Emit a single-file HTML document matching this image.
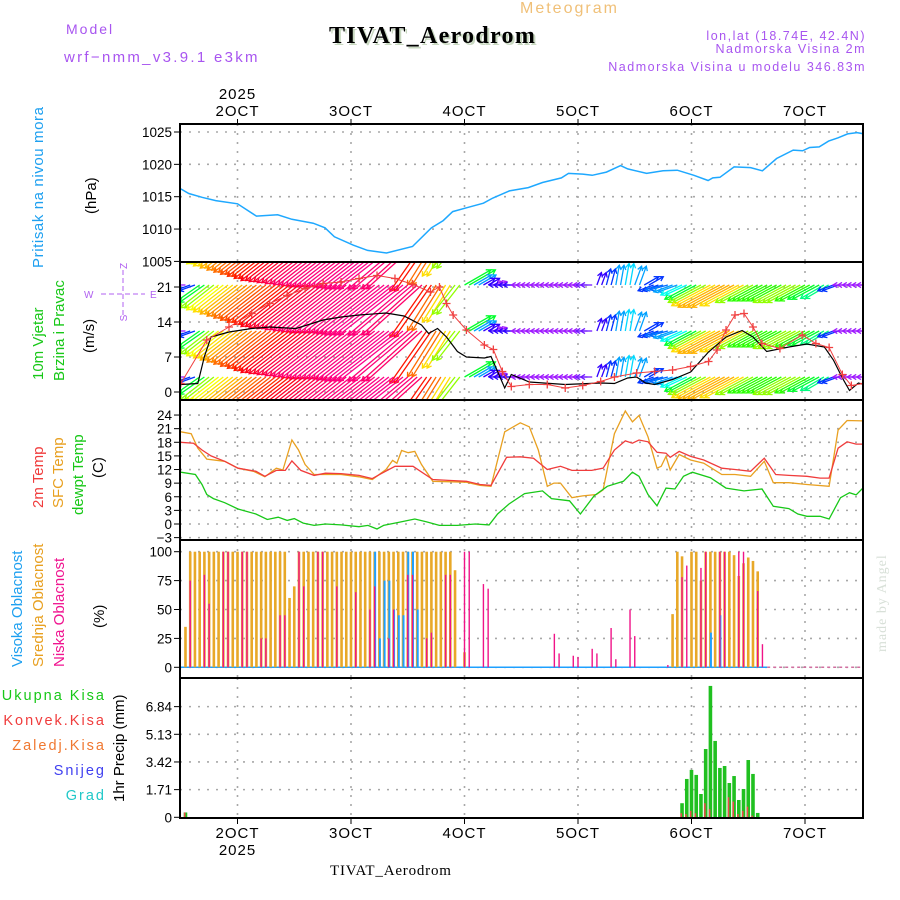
<!DOCTYPE html>
<html><head><meta charset="utf-8"><style>
html,body{margin:0;padding:0;background:#fff;}
svg{display:block;font-family:"Liberation Sans",sans-serif;}
</style></head><body>
<svg id="chart" width="900" height="900" viewBox="0 0 900 900" xmlns="http://www.w3.org/2000/svg">
<rect x="0" y="0" width="900" height="900" fill="#fff"/>
<g id="gridLayer"></g>
<g id="dataLayer"></g>
<g id="frameLayer"></g>
<g id="textLayer">
<text x="66" y="34" font-size="14" fill="#a855f0" letter-spacing="2">Model</text>
<text x="64" y="62" font-size="15" fill="#a855f0" letter-spacing="2.3">wrf−nmm_v3.9.1 e3km</text>
<text x="520" y="13" font-size="16" fill="#f0c078" letter-spacing="2">Meteogram</text>
<text x="331" y="45" font-size="24" font-weight="bold" font-family="Liberation Serif, serif" fill="#c8d8c0" letter-spacing="1.3">TIVAT_Aerodrom</text>
<text x="329" y="43" font-size="24" font-weight="bold" font-family="Liberation Serif, serif" fill="#000" letter-spacing="1.3">TIVAT_Aerodrom</text>
<text x="866" y="40" font-size="12.5" fill="#a855f0" text-anchor="end" letter-spacing="1.5">lon,lat (18.74E, 42.4N)</text>
<text x="866" y="53" font-size="12.5" fill="#a855f0" text-anchor="end" letter-spacing="1.5">Nadmorska Visina 2m</text>
<text x="866" y="71" font-size="12.5" fill="#a855f0" text-anchor="end" letter-spacing="1.5">Nadmorska Visina u modelu 346.83m</text>
<text x="330" y="875" font-size="15" font-family="Liberation Serif, serif" fill="#000" letter-spacing="0.8">TIVAT_Aerodrom</text>
<text transform="translate(886,652) rotate(-90)" font-size="14" font-family="Liberation Serif, serif" fill="#d8e0d8" letter-spacing="1">made by Angel</text>
<text transform="translate(43,268) rotate(-90)" font-size="15" fill="#1ea0f0" letter-spacing="0.6">Pritisak na nivou mora</text>
<text transform="translate(96,214) rotate(-90)" font-size="15" fill="#000">(hPa)</text>
<text transform="translate(43,380) rotate(-90)" font-size="15" fill="#18c818">10m Vjetar</text>
<text transform="translate(64,381) rotate(-90)" font-size="15" fill="#18c818">Brzina i Pravac</text>
<text transform="translate(94,353) rotate(-90)" font-size="15" fill="#000">(m/s)</text>
<g fill="#b060f0" stroke="none" font-size="10">
<text x="84" y="298">W</text><text x="150" y="298">E</text>
<text transform="translate(127,266) rotate(-90)" text-anchor="middle">Z</text>
<text transform="translate(127,318) rotate(-90)" text-anchor="middle">S</text>
<line x1="101" y1="294" x2="145" y2="294" stroke="#b060f0" stroke-dasharray="5 3"/>
<line x1="123" y1="270" x2="123" y2="316" stroke="#b060f0" stroke-dasharray="5 3"/>
</g>
<text transform="translate(43,508) rotate(-90)" font-size="15" fill="#f03c3c">2m Temp</text>
<text transform="translate(63,508) rotate(-90)" font-size="15" fill="#e8a020">SFC Temp</text>
<text transform="translate(83,515) rotate(-90)" font-size="15" fill="#18c818">dewpt Temp</text>
<text transform="translate(103,478) rotate(-90)" font-size="15" fill="#000">(C)</text>
<text transform="translate(22,667) rotate(-90)" font-size="15" fill="#1ea0f0">Visoka Oblacnost</text>
<text transform="translate(43,667) rotate(-90)" font-size="15" fill="#e8a020">Srednja Oblacnost</text>
<text transform="translate(64,667) rotate(-90)" font-size="15" fill="#f01490">Niska Oblacnost</text>
<text transform="translate(104,628) rotate(-90)" font-size="15" fill="#000">(%)</text>
<text x="106" y="700" font-size="14.5" fill="#18c818" text-anchor="end" letter-spacing="2">Ukupna Kisa</text>
<text x="106" y="725" font-size="14.5" fill="#f03c3c" text-anchor="end" letter-spacing="2">Konvek.Kisa</text>
<text x="106" y="750" font-size="14.5" fill="#f07830" text-anchor="end" letter-spacing="2">Zaledj.Kisa</text>
<text x="106" y="775" font-size="14.5" fill="#4040f0" text-anchor="end" letter-spacing="2">Snijeg</text>
<text x="106" y="800" font-size="14.5" fill="#20c8c8" text-anchor="end" letter-spacing="2">Grad</text>
<text transform="translate(124,802) rotate(-90)" font-size="15" fill="#000">1hr Precip (mm)</text>
</g>
<g id="axisLayer"></g>
</svg>
<script>
// ---------- data ----------
const dayLabels = ["2OCT","3OCT","4OCT","5OCT","6OCT","7OCT"];
const pressureTicks = [1005,1010,1015,1020,1025];
const windTicks = [0,7,14,21];
const tempTicks = [-3,0,3,6,9,12,15,18,21,24];
const cloudTicks = [0,25,50,75,100];
const precipTicks = [0,1.71,3.42,5.13,6.84];

const pressureSeries = [[-12,1016.2],[-10.3,1015.5],[-7.5,1014.9],[-4.6,1014.4],[0,1013.9],[4,1012.0],[8.5,1012.2],[11.5,1011.5],[16,1010.9],[18.5,1010.2],[20.5,1008.8],[24.5,1007.5],[27.5,1006.7],[31.5,1006.3],[37,1007.3],[41,1010.2],[43.5,1011.3],[45.5,1012.7],[48.5,1013.3],[52,1014.0],[54,1014.8],[57.5,1015.9],[61.5,1016.4],[64.5,1017.2],[68.5,1017.9],[70,1018.6],[73,1018.5],[75,1018.3],[78,1018.8],[81,1019.8],[82.5,1019.3],[86.5,1018.6],[90,1019.0],[93,1019.1],[96.5,1018.3],[99.5,1017.5],[100.5,1017.9],[102,1018.0],[105,1019.6],[108.5,1019.5],[111,1019.0],[114,1020.9],[117.5,1022.2],[119.5,1022.1],[121,1022.6],[123,1022.7],[125,1023.6],[127,1024.1],[129,1024.7],[131,1024.9],[132.5,1024.7]];

const temp2mSeries = [[-12,18],[-9.3,17.8],[-7.5,16.3],[-5.6,15],[-2.7,13.8],[0.1,12.3],[3.9,11.6],[5.8,10.5],[8.2,11.8],[10.1,11.8],[11.5,13.9],[13.4,11.8],[16.2,10.7],[18.6,11.2],[21.9,11.1],[25.7,10.7],[28.5,10],[30.4,11.1],[33.3,12.7],[37.1,12.7],[41.3,9.8],[44.6,9.6],[48.4,9.4],[51.3,8.7],[53.6,8.5],[56.9,14.7],[59.8,14.8],[62.6,14.5],[65.5,12],[68.3,12.7],[70.7,11.8],[74.9,11.8],[77.3,12.3],[79.7,16.3],[82,18.3],[83.5,17.8],[84.9,18.5],[86.8,18.1],[88.7,15.8],[90.6,15.6],[91.5,14.7],[93.4,16],[95.8,14.9],[98.6,14.1],[102.4,12.3],[105.2,12],[108.5,11.6],[111.4,14.5],[113.8,10.9],[116.6,10.7],[120.4,10.5],[123.2,10.1],[125.1,10.1],[127,16.7],[128.9,18.1],[130.8,17.6],[132.5,17.6]];

const tempSfcSeries = [[-12,20.3],[-9.8,19.9],[-8.4,16.7],[-6.5,14.3],[-2.7,13.8],[0.1,12.3],[3.4,11.6],[5.8,10.4],[8.2,12.3],[9.6,11.9],[11.5,18.5],[12.9,16.3],[14.3,13.1],[16.2,10.9],[21.9,10.9],[25.7,10.4],[28.5,9.8],[31.4,12],[32.8,14],[33.7,13.4],[34.7,16.2],[36.1,15.7],[37.5,16],[38.9,13.1],[41.3,9.4],[48.4,9.2],[51.3,8.5],[53.6,8.3],[56.5,20.3],[59.8,22.3],[61.7,21.4],[63.6,16.3],[65.5,8.3],[66.9,9],[68.3,9],[70.7,5.8],[73,6.2],[75.9,6.5],[77.3,7.5],[79.7,19.9],[82,24.9],[83.5,22.5],[84.9,23.9],[86.8,19.2],[88.7,12.3],[89.6,12.7],[90.6,14.9],[91.5,11.9],[93.4,15.3],[95.8,14.1],[98.6,13.4],[102.4,10.9],[105.2,10.9],[108.5,10.5],[111.4,13.8],[113.3,9.1],[116.6,9.1],[120.4,8.7],[125.1,8.3],[127,20.7],[128.9,22.8],[132.5,22.7]];

const dewptSeries = [[-12,11.4],[-8.9,10.9],[-7.5,8.7],[-6.5,6.5],[-5.1,5.6],[-2.7,4.7],[0.1,3.3],[3.9,2.2],[6.3,1],[8.6,1.5],[10.5,0.8],[12,1.2],[13.9,0.2],[16.2,-0.3],[18.6,0],[21.9,-0.2],[25.7,-0.6],[27.6,-0.3],[29.5,-1.1],[30.9,-0.3],[34.2,0.4],[37.5,1.1],[39.9,0.5],[42.7,-0.3],[46.5,-0.3],[50.3,0],[53.2,-0.2],[55,2.2],[57.4,4.4],[60.7,6.7],[64.5,7.3],[66.4,5.6],[70.2,5.1],[72.5,2.2],[75.4,6.2],[78.2,8.3],[81.6,9.4],[83.5,11.4],[84.9,10.5],[86.8,6.5],[88.7,4],[90.6,7.9],[92.5,7.7],[94.3,10.5],[96.2,11.4],[100,10.2],[103.3,7.9],[107.1,7.3],[110.9,7.7],[113.3,3.9],[116.6,3.4],[118.5,2.2],[120.4,1.7],[123.2,1.7],[125.1,1.1],[127.5,5.8],[129.4,6.9],[130.8,6.4],[132.5,8.2]];

const windMeanSeries = [[-12,1.5],[-8.4,1.7],[-7,7.1],[-5.6,11],[-1.8,12],[3,12.7],[6.8,13],[12.4,12.7],[18.1,14.4],[21.9,15],[25.7,15.4],[31.4,15.8],[35.2,15.2],[38.9,13.4],[40.4,11.7],[42.3,12.7],[44.2,11],[46.5,8.1],[48.4,7],[52.2,6.8],[53.6,7.1],[55,4.1],[56.5,0.8],[57.9,3.5],[61.7,2],[69.3,1.5],[76.8,1.8],[79.7,1.7],[82.5,2.8],[84.4,3],[86.3,1.8],[88.2,1.5],[92,2.5],[95.8,4],[99.6,8],[103.3,11],[106.7,12.3],[109,11],[111.9,8.1],[116.6,9],[120.4,9.6],[124.1,9],[126,6.4],[127.9,2.8],[129.4,0.3],[131.3,1.8],[132.5,1.5]];

const windGustSeries = [[-12,1.7],[-6.5,10.4],[-1.8,13],[3,15.7],[6.8,17.7],[10.5,19.3],[14.3,20.7],[18.1,21.7],[21.9,22],[25.7,22.7],[29.5,23.3],[33.3,22.7],[37.1,21.5],[40.8,20],[42.7,21],[44.2,17.7],[45.6,15.4],[48.4,12.4],[52.2,9.4],[54.1,8.5],[56,4.1],[57.9,1.1],[61.7,1.5],[65.5,1.5],[69.3,0.8],[73,1.3],[76.8,2.1],[79.7,3],[84.4,3.8],[88.2,4.1],[92,4.4],[95.8,5.1],[99.6,6.1],[101.4,8.4],[103.3,12.4],[105.2,15.4],[107.1,15.7],[109,13],[110.9,9.7],[114.7,8.7],[119.4,11.4],[122.3,9.7],[125.1,8.9],[127.9,3.5],[129.8,1.3],[132.5,1.7]];

// wind arrows every 2 hours from -12 to 132 (each sample drawn as a pair of hourly barbs)
const arrowHours = [-12,-10,-8,-6,-4,-2,0,2,4,6,8,10,12,14,16,18,20,22,24,26,28,30,32,34,36,38,40,42,44,46,48,50,52,54,56,58,60,62,64,66,68,70,72,74,76,78,80,82,84,86,88,90,92,94,96,98,100,102,104,106,108,110,112,114,116,118,120,122,124,126,128,130,132];
const arrowSpeed = [2,4,8,10,11,12,13,14,15,16,17,18,19,19.5,20,20.5,21,21.5,22,22,22,22.5,23,23,22,21,18,15,12,10,8,5,3,2,3,3,2,2,2,2,2,2,2,2.5,3,4,5,5.5,5,4,4,4.5,5,6,8,10,12,13,13,12,10,9,9,9,10,10,9,8,7,4,2,2,2];
const arrowDir = [270,250,235,232,232,232,232,232,232,232,232,232,232,232,232,232,232,232,232,232,232,232,232,232,230,228,215,212,212,218,60,60,60,70,270,270,270,270,270,270,270,270,270,270,20,15,10,10,20,60,250,255,250,245,242,242,242,242,242,242,242,242,242,242,242,242,242,242,240,250,270,270,270];

const cloudMidStart = -11;
const cloudMid = [35,100,100,100,100,100,100,100,100,100,100,100,100,100,100,100,100,100,100,100,100,100,60,70,100,100,100,100,100,100,100,100,100,100,100,100,100,100,100,100,100,100,100,100,100,100,100,100,100,100,100,100,100,100,100,100,100,84,0,13];
const cloudMid2 = [[92,46],[93,100],[94,96],[96,100],[97,100],[98,75],[99,100],[100,100],[101,100],[102,100],[103,100],[104,100],[105,97],[106,79],[107,90],[108,95],[109,92],[110,83]];
const cloudHigh = [[29,100],[30,25],[31,75],[32,75],[33,50],[34,45],[35,45],[36,100],[37,100],[38,50],[100,30],[102,45]];
const cloudLow = [[-10,75],[-7,80],[-6,55],[-3,100],[-2,100],[1,100],[2,100],[5,25],[6,25],[9,45],[10,45],[13,100],[14,70],[17,100],[18,100],[21,70],[25,65],[28,50],[29,70],[32,25],[33,50],[36,80],[37,80],[40,25],[41,30],[44,80],[45,80],[48,100],[49,100],[52,72],[53,68],[67,29],[68,12],[71,10],[72,9],[75,16],[76,12],[79,34],[80,7],[83,50],[84,27],[91,2],[94,78],[95,88],[98,86],[99,100],[102,100],[103,100],[106,100],[107,100],[110,66],[111,20]];

const precipHours = [-11,94,95,96,97,98,99,100,101,102,103,104,105,106,107,108,109,110];
const precipTotal = [0.3,0.87,2.37,2.93,2.62,1.44,4.22,8.12,4.72,3.05,3.17,2.12,2.55,1.07,1.75,3.54,2.68,0.27];
const precipConv = [0.3,0.25,0.2,0.4,0.25,0,0.87,0.5,0,0,0,1.24,0.97,0.2,0.4,0.66,0.1,0];

// ---------- geometry ----------
const NS = "http://www.w3.org/2000/svg";
const L = 180, R = 863;
const X = h => 237.5 + h * 113.5 / 24;
const panels = [
  {top:124, bot:262}, {top:262, bot:400}, {top:400, bot:540}, {top:540, bot:678}, {top:678, bot:818}
];
const Yp = v => 132 + (1025 - v) * 6.47;
const Yw = v => 392 - v * 5;
const Yt = v => 524 - v * 4.54;
const Yc = v => 667.3 - v * 1.156;
const Yr = v => 817.3 - v * 16.18;

function el(tag, attrs, parent) {
  const e = document.createElementNS(NS, tag);
  for (const k in attrs) e.setAttribute(k, attrs[k]);
  parent.appendChild(e);
  return e;
}
const grid = document.getElementById('gridLayer');
const data = document.getElementById('dataLayer');
const frame = document.getElementById('frameLayer');
const axes = document.getElementById('axisLayer');

const defs = el('defs', {}, document.getElementById('chart'));
panels.forEach((p, i) => {
  const cp = el('clipPath', {id: 'clip' + i}, defs);
  el('rect', {x: L, y: p.top, width: R - L, height: p.bot - p.top}, cp);
});

panels.forEach((p) => {
  for (let d = 0; d < dayLabels.length; d++) {
    const ln = el('line', {x1: X(d*24), x2: X(d*24), y1: p.top, y2: p.bot, stroke: '#a8a8a8', 'stroke-width': 1.6, 'stroke-dasharray': '2 7'}, grid);
    
    
  }
});
function yAxis(ticks, Y, p, fmt, name) {
  ticks.forEach(t => {
    const y = Y(t);
    if (y > p.top + 2 && y < p.bot - 2) {
      const g = el('line', {x1: L, x2: R, y1: y, y2: y, stroke: '#a8a8a8', 'stroke-width': 1.6, 'stroke-dasharray': '2 7'}, grid);
      
      
    }
    const tk = el('line', {x1: L - 6, x2: L, y1: y, y2: y, stroke: '#000', 'stroke-width': 1}, axes);
    
    
    const tx = el('text', {x: L - 8, y: y + 5, 'font-size': 13.5, 'text-anchor': 'end', fill: '#000'}, axes);
    tx.textContent = fmt(t);
    
    
  });
}
yAxis(pressureTicks, Yp, panels[0], t => t, 'pressure');
yAxis(windTicks, Yw, panels[1], t => t, 'wind');
yAxis(tempTicks, Yt, panels[2], t => t < 0 ? '−' + (-t) : t, 'temp');
yAxis(cloudTicks, Yc, panels[3], t => t, 'cloud');
yAxis(precipTicks, Yr, panels[4], t => t === 0 ? '0' : t.toFixed(2), 'precip');

dayLabels.forEach((lab, d) => {
  const x = X(d*24);
  const t1 = el('text', {x: x, y: 116, 'font-size': 15, 'text-anchor': 'middle', fill: '#000', 'letter-spacing': 1}, axes);
  t1.textContent = lab;
  
  
  const t2 = el('text', {x: x, y: 838, 'font-size': 15, 'text-anchor': 'middle', fill: '#000', 'letter-spacing': 1}, axes);
  t2.textContent = lab;
  
  
  const k1 = el('line', {x1: x, x2: x, y1: 119, y2: 124, stroke: '#000'}, axes);
  
  
  const k2 = el('line', {x1: x, x2: x, y1: 818, y2: 824, stroke: '#000'}, axes);
  
  
});
const y1 = el('text', {x: X(0), y: 99, 'font-size': 15, 'text-anchor': 'middle', fill: '#000', 'letter-spacing': 1}, axes);
y1.textContent = '2025';


const y2 = el('text', {x: X(0), y: 855, 'font-size': 15, 'text-anchor': 'middle', fill: '#000', 'letter-spacing': 1}, axes);
y2.textContent = '2025';



function line(series, Y, color, width, clip, name) {
  const pts = series.map(p => X(p[0]).toFixed(1) + ',' + Y(p[1]).toFixed(1)).join(' ');
  const pl = el('polyline', {points: pts, fill: 'none', stroke: color, 'stroke-width': width, 'clip-path': 'url(#clip' + clip + ')'}, data);
  
  
  return pl;
}

line(pressureSeries, Yp, '#1ea8ff', 1.5, 0, 'pressure-line');

function hueFor(s) {
  const stops = [[0,280],[2,275],[4,228],[7,150],[9,110],[11,62],[14,32],[18,5],[21,-25],[25,-40]];
  for (let i = 1; i < stops.length; i++) {
    if (s <= stops[i][0]) {
      const a = stops[i-1], b = stops[i];
      const f = (s - a[0]) / (b[0] - a[0]);
      return a[1] + f * (b[1] - a[1]);
    }
  }
  return -40;
}
const windG = el('g', {'clip-path': 'url(#clip1)'}, data);


const rows = [239, 285, 331, 377];
rows.forEach(by => {
  arrowHours.forEach((h, i) => {
    const s = arrowSpeed[i], dir = arrowDir[i] * Math.PI / 180;
    const len = s * 3.4 + 3;
    const col = 'hsl(' + ((hueFor(s) + 360) % 360) + ',100%,' + (s < 3 ? 55 : 50) + '%)';
    [0, 1].forEach(off => {
      const x0 = X(h + off), y0 = by;
      const dx = Math.sin(dir) * len, dy = -Math.cos(dir) * len;
      const x1 = x0 + dx, y1 = y0 + dy;
      const a = el('line', {x1: x0, y1: y0, x2: x1, y2: y1, stroke: col, 'stroke-width': 1.3}, windG);
      
      
      const ang = Math.atan2(dy, dx);
      const hp = [ang + 2.6, ang - 2.6].map(t => (x1 + Math.cos(t) * 5).toFixed(1) + ',' + (y1 + Math.sin(t) * 5).toFixed(1));
      const head = el('polyline', {points: hp[0] + ' ' + x1.toFixed(1) + ',' + y1.toFixed(1) + ' ' + hp[1], fill: 'none', stroke: col, 'stroke-width': 1.3}, windG);
      
      
    });
  });
});
line(windMeanSeries, Yw, '#000', 1.2, 1, 'mean-wind-line');
line(windGustSeries, Yw, '#f04040', 1, 1, 'gust-line');
windGustSeries.forEach(p => {
  const x = X(p[0]), y = Yw(p[1]);
  const m = el('path', {d: 'M' + (x-4) + ' ' + y + 'h8M' + x + ' ' + (y-4) + 'v8', stroke: '#f04040', 'stroke-width': 1.3, 'clip-path': 'url(#clip1)'}, data);
  
  
});

line(tempSfcSeries, Yt, '#e8a020', 1.3, 2, 'sfc-temp-line');
line(temp2mSeries, Yt, '#f03c3c', 1.3, 2, 'temp-2m-line');
line(dewptSeries, Yt, '#18c818', 1.3, 2, 'dewpt-line');

const base = el('line', {x1: L, x2: X(112), y1: Yc(0), y2: Yc(0), stroke: '#1ea0ff', 'stroke-width': 1.5}, data);


const base2 = el('line', {x1: X(112), x2: R, y1: Yc(0), y2: Yc(0), stroke: '#d070a0', 'stroke-width': 1.5, 'stroke-dasharray': '3 3'}, data);


function bar(h, v, Y, w, off, color, name, clip) {
  if (v <= 0) return;
  const x = X(h) + off;
  const b = el('rect', {x: x - w/2, y: Y(v), width: w, height: Y(0) - Y(v), fill: color, 'clip-path': 'url(#clip' + clip + ')'}, data);
  
  
}
cloudMid.forEach((v, i) => bar(cloudMidStart + i, v, Yc, 2.6, 0, '#e8a828', 'mid-cloud-bar', 3));
cloudMid2.forEach(p => bar(p[0], p[1], Yc, 2.6, 0, '#e8a828', 'mid-cloud-bar', 3));
cloudHigh.forEach(p => bar(p[0], p[1], Yc, 2, 0.5, '#1ea0ff', 'high-cloud-bar', 3));
cloudLow.forEach(p => bar(p[0], p[1], Yc, 1.4, 0, '#f01488', 'low-cloud-bar', 3));

precipHours.forEach((h, i) => {
  bar(h, precipTotal[i], Yr, 3.6, 0, '#20c020', 'total-precip-bar', 4);
  bar(h, precipConv[i], Yr, 1.5, -0.8, '#f04848', 'convective-precip-bar', 4);
});

panels.forEach((p, i) => {
  const f = el('rect', {x: L, y: p.top, width: R - L, height: p.bot - p.top, fill: 'none', stroke: '#000', 'stroke-width': 2}, frame);
  
  
});
</script>
</body></html>
